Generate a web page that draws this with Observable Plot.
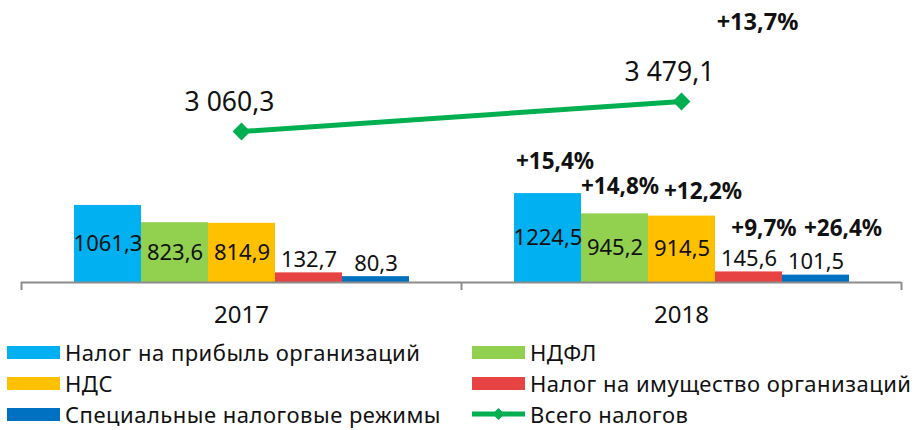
<!DOCTYPE html>
<html><head><meta charset="utf-8">
<script src="https://cdn.jsdelivr.net/npm/d3@7"></script>
<script src="https://cdn.jsdelivr.net/npm/@observablehq/plot@0.6"></script>
<style>
body{margin:0;background:#fff;font-family:"Noto Sans",sans-serif;}
#wrap{position:relative;width:916px;height:335px;}
#wrap svg{position:absolute;left:0;top:0;}
#legend{position:relative;width:916px;height:95px;}
.item{position:absolute;display:flex;align-items:center;height:24px;font-size:22px;letter-spacing:0.5px;line-height:1;color:#111;white-space:nowrap;}
.sw{width:53px;height:13px;margin-right:5px;flex:none;}
</style></head><body>
<div id="wrap"></div><div id="legend"></div>
<script>
const years = ["2017", "2018"];
const categories = ["Налог на прибыль организаций", "НДФЛ", "НДС", "Налог на имущество организаций", "Специальные налоговые режимы"];
const values2017 = [1061.3, 823.6, 814.9, 132.7, 80.3];
const values2018 = [1224.5, 945.2, 914.5, 145.6, 101.5];
const growth2018 = [15.4, 14.8, 12.2, 9.7, 26.4];
const totals = [3060.3, 3479.1];
const totalGrowth = 13.7;
const totalName = "Всего налогов";
const colors = ["#00b0f0", "#92d050", "#ffc000", "#e84343", "#0070c0"];
const lineColor = "#00b050";

const loc = d3.formatLocale({decimal: ",", thousands: "\u00a0", grouping: [3], currency: ["", ""]});
const fmtBar = loc.format(".1f");
const fmtTot = loc.format(",.1f");
const fmtPct = v => "+" + loc.format(".1f")(v) + "%";

const rows = [];
years.forEach((yr, yi) => {
  const vals = yi === 0 ? values2017 : values2018;
  categories.forEach((c, ci) => rows.push({year: yr, cat: c, idx: ci, value: vals[ci], growth: yi === 1 ? growth2018[ci] : null}));
});
const totRows = years.map((yr, i) => ({year: yr, i, total: totals[i]}));

const W = 916, H = 335, base = 282;
const style = {fontFamily: "Noto Sans", fontSize: "22px", color: "#111", background: "transparent", overflow: "visible"};
const hasAxisFx = typeof Plot.axisFx === "function";
const pctRows = rows.filter(d => d.growth != null);
const pctText = (filter, dx, dy) => Plot.text(pctRows.filter(filter), {fx: "year", x: "cat", y: "value", dx, dy, text: d => fmtPct(d.growth), fontSize: 22.5, fontWeight: "bold", fill: "#111"});

const A = Plot.plot({
  width: W, height: H, marginLeft: 21, marginRight: 15, marginTop: 0, marginBottom: H - base,
  style,
  fx: {domain: years, padding: 0, label: null, axis: hasAxisFx ? null : "bottom", tickSize: 0, tickPadding: 25},
  x: {domain: categories, paddingInner: 0, paddingOuter: 0.75, axis: null},
  y: {domain: [0, 3884], axis: null},
  color: {domain: categories, range: colors},
  marks: [
    Plot.barY(rows, {fx: "year", x: "cat", y: "value", fill: "cat"}),
    Plot.ruleY([0], {stroke: "#8c8c8c", strokeWidth: 2}),
    hasAxisFx ? Plot.axisFx({anchor: "bottom", label: null, tickSize: 0, tickPadding: 23, fontSize: 24, fill: "#111"}) : null,
    Plot.text(rows.filter(d => d.value > 500), {fx: "year", x: "cat", y: d => d.value / 2, text: d => fmtBar(d.value), fontSize: 22, fill: "#111"}),
    Plot.text(rows.filter(d => d.value <= 500), {fx: "year", x: "cat", y: "value", dy: -13, text: d => fmtBar(d.value), fontSize: 22, fill: "#111"}),
    pctText(d => d.idx === 0, 7, -32),
    pctText(d => d.idx === 1, 5, -27),
    pctText(d => d.idx === 2, 21, -24),
    pctText(d => d.idx === 3, 15, -43),
    pctText(d => d.idx === 4, 27, -46)
  ]
});

const B = Plot.plot({
  width: W, height: H, marginLeft: 21, marginRight: 15, marginTop: 0, marginBottom: H - 290,
  style,
  x: {domain: [0, years.length], axis: null},
  y: {domain: [840.6, 4889.1], axis: null},
  marks: [
    Plot.ruleX(d3.range(years.length + 1), {stroke: "#8c8c8c", strokeWidth: 2, insetTop: base}),
    Plot.line(totRows, {x: d => d.i + 0.5, y: "total", stroke: lineColor, strokeWidth: 5}),
    Plot.dot(totRows, {x: d => d.i + 0.5, y: "total", symbol: "diamond2", r: 8, fill: lineColor}),
    Plot.text(totRows, {x: d => d.i + 0.5, y: "total", text: d => fmtTot(d.total), dx: -12, dy: -29, fontSize: 26.5, fill: "#111"}),
    Plot.text(totRows.slice(-1), {x: d => d.i + 0.5, y: "total", text: () => fmtPct(totalGrowth), dx: 76, dy: -79, fontSize: 23.5, fontWeight: "bold", fill: "#111"})
  ]
});

const wrap = document.getElementById("wrap");
wrap.appendChild(A);
wrap.appendChild(B);

// legend
const legend = document.getElementById("legend");
const items = [
  {name: categories[0], color: colors[0], col: 0, row: 0},
  {name: categories[1], color: colors[1], col: 1, row: 0},
  {name: categories[2], color: colors[2], col: 0, row: 1},
  {name: categories[3], color: colors[3], col: 1, row: 1},
  {name: categories[4], color: colors[4], col: 0, row: 2},
  {name: totalName, color: lineColor, col: 1, row: 2, line: true}
];
const colX = [7, 472], rowY = [17, 48, 79];
items.forEach(it => {
  const d = document.createElement("div");
  d.className = "item";
  d.style.left = colX[it.col] + "px";
  d.style.top = (rowY[it.row] - 12) + "px";
  if (it.line) {
    d.innerHTML = `<svg width="53" height="14" style="margin-right:5px;flex:none"><line x1="0" x2="53" y1="7" y2="7" stroke="${it.color}" stroke-width="5"/><path d="M26.5,1L32.5,7L26.5,13L20.5,7Z" fill="${it.color}"/></svg>`;
  } else {
    d.innerHTML = `<div class="sw" style="background:${it.color}"></div>`;
  }
  const t = document.createElement("span");
  t.textContent = it.name;
  d.appendChild(t);
  legend.appendChild(d);
});
</script>
</body></html>
